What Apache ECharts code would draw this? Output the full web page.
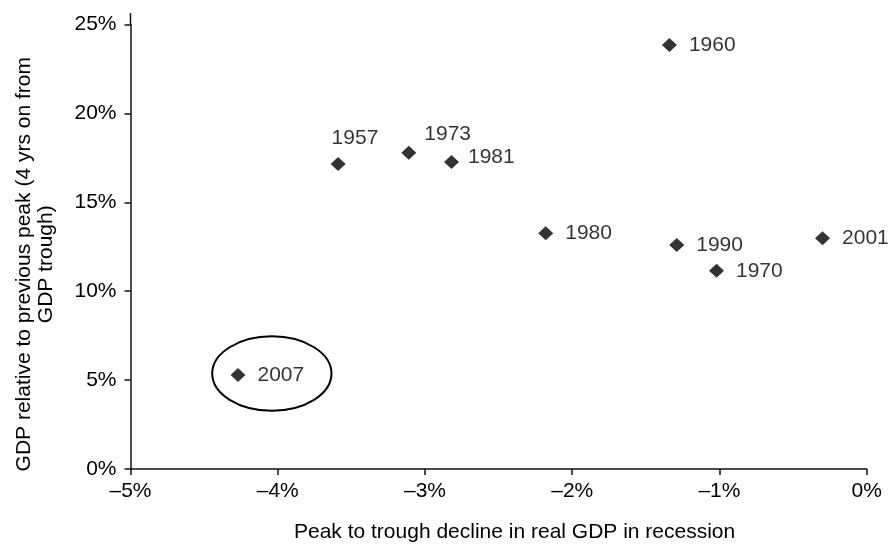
<!DOCTYPE html>
<html>
<head>
<meta charset="utf-8">
<style>
  html, body { margin: 0; padding: 0; background: #ffffff; }
  #chart { width: 890px; height: 548px; }
</style>
<script src="https://cdn.jsdelivr.net/npm/echarts@6/dist/echarts.min.js"></script>
</head>
<body>
<div id="chart"></div>
<script>
// ---- Data (values in percent) ----
var years = ['1957', '1960', '1970', '1973', '1980', '1981', '1990', '2001', '2007'];
var peakToTroughDecline = [-3.59, -1.34, -1.02, -3.11, -2.18, -2.82, -1.29, -0.30, -4.27];
var gdpVsPreviousPeak = [17.16, 23.85, 11.15, 17.79, 13.26, 17.26, 12.60, 12.98, 5.28];
var xTicks = [-5, -4, -3, -2, -1, 0];
var yTicks = [0, 5, 10, 15, 20, 25];
// highlighted recession (circled): centre and radii in data units
var highlightCentre = [-4.04, 5.37];
var highlightRadii = [0.405, 2.09];

var xTitle = 'Peak to trough decline in real GDP in recession';
var yTitle = 'GDP relative to previous peak (4 yrs on from\nGDP trough)';

// ---- label placement (layout only) ----
var labelOffsets = {
  '1957': [-26, -26],
  '1973': [-4, -18],
  '1981': [-3, -5]
};

var FONT = '"Liberation Sans", Arial, Helvetica, sans-serif';

var points = years.map(function (y, i) {
  var item = { name: y, value: [peakToTroughDecline[i], gdpVsPreviousPeak[i]] };
  if (labelOffsets[y]) {
    item.label = { offset: labelOffsets[y] };
  }
  return item;
});

function pctLabel(v) {
  if (v < 0) return '\u2013' + Math.abs(v) + '%';
  return v + '%';
}

var chart = echarts.init(document.getElementById('chart'), null, { renderer: 'canvas' });

var option = {
  backgroundColor: '#ffffff',
  animation: false,
  textStyle: { fontFamily: FONT, color: '#000' },
  grid: { left: 130.5, right: 23.3, top: 24.5, bottom: 75.3, containLabel: false },
  xAxis: {
    type: 'value',
    min: xTicks[0],
    max: xTicks[xTicks.length - 1],
    interval: 1,
    name: xTitle,
    nameLocation: 'middle',
    nameGap: 53,
    nameTextStyle: { fontSize: 21, color: '#000', fontFamily: FONT, padding: [0, 0, 0, 32] },
    axisLine: { show: true, onZero: false, lineStyle: { color: '#111', width: 1.5 } },
    axisTick: { show: true, inside: false, length: 6, lineStyle: { color: '#111', width: 1.5 } },
    axisLabel: { fontSize: 21, color: '#000', fontFamily: FONT, margin: 12, formatter: pctLabel },
    splitLine: { show: false }
  },
  yAxis: {
    type: 'value',
    min: yTicks[0],
    max: yTicks[yTicks.length - 1],
    interval: 5,
    name: yTitle,
    nameLocation: 'middle',
    nameRotate: 90,
    nameGap: 73,
    nameTextStyle: { fontSize: 21, lineHeight: 22, color: '#000', fontFamily: FONT, padding: [0, 35, 0, 0] },
    axisLine: { show: true, onZero: false, lineStyle: { color: '#111', width: 1.5 } },
    axisTick: { show: true, inside: false, length: 6, lineStyle: { color: '#111', width: 1.5 } },
    axisLabel: { fontSize: 21, color: '#000', fontFamily: FONT, margin: 14, formatter: pctLabel },
    splitLine: { show: false }
  },
  series: [{
    type: 'scatter',
    symbol: 'diamond',
    symbolSize: [15, 14],
    itemStyle: { color: '#000' },
    label: {
      show: true,
      position: 'right',
      distance: 12,
      formatter: '{b}',
      fontSize: 21,
      color: '#000',
      fontFamily: FONT
    },
    emphasis: { disabled: true },
    data: points
  }]
};

chart.setOption(option);

// annotation ellipse and small axis extension above the top tick, placed through the chart's scales
var c = chart.convertToPixel({ gridIndex: 0 }, highlightCentre);
var e = chart.convertToPixel({ gridIndex: 0 }, [highlightCentre[0] + highlightRadii[0], highlightCentre[1] + highlightRadii[1]]);
var topLeft = chart.convertToPixel({ gridIndex: 0 }, [xTicks[0], yTicks[yTicks.length - 1]]);
chart.setOption({
  graphic: [
    {
      type: 'ellipse',
      shape: { cx: c[0], cy: c[1], rx: Math.abs(e[0] - c[0]), ry: Math.abs(c[1] - e[1]) },
      style: { fill: 'none', stroke: '#000', lineWidth: 2 },
      silent: true,
      z: 10
    },
    {
      type: 'line',
      shape: { x1: topLeft[0], y1: topLeft[1] - 11.5, x2: topLeft[0], y2: topLeft[1] },
      style: { stroke: '#111', lineWidth: 1.5 },
      silent: true,
      z: 10
    }
  ]
});
</script>
</body>
</html>
